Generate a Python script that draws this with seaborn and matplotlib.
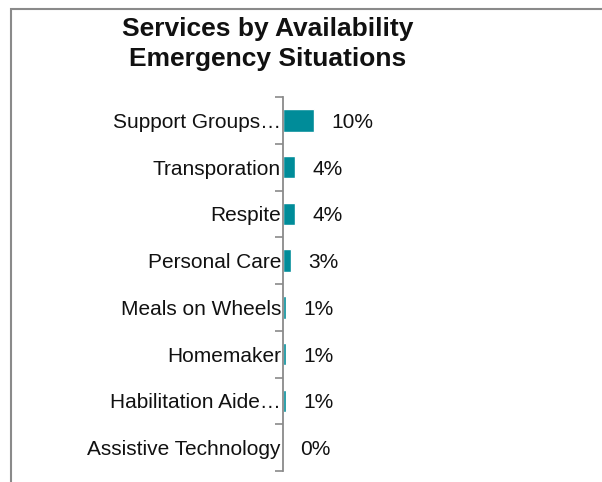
import matplotlib
matplotlib.use("Agg")
import matplotlib.pyplot as plt
import seaborn as sns
import numpy as np
import pandas as pd
from matplotlib.patches import Rectangle

services = ["Support Groups…", "Transporation", "Respite", "Personal Care",
            "Meals on Wheels", "Homemaker", "Habilitation Aide…", "Assistive Technology"]
percent = [10.2, 4.0, 4.0, 2.6, 1.0, 1.0, 1.0, 0.0]
title_lines = ["Services by Availability", "Emergency Situations"]

sns.set_theme(style="white")
plt.rcParams["font.family"] = ["Liberation Sans", "DejaVu Sans"]

df = pd.DataFrame({"service": services, "pct": percent})

fig = plt.figure(figsize=(6.02, 4.82), dpi=100)
W, H = 602, 482
ax = fig.add_axes([283 / W, 1 - 471 / H, 305 / W, 374 / H])

bar_color = "#008C99"
gray = "#8a8a8a"
txt = "#111111"

sns.barplot(data=df, y="service", x="pct", color=bar_color, saturation=1,
            width=0.48, orient="h", ax=ax)

ax.set_xlim(0, 100)
ax.set_ylim(len(services) - 0.5, -0.5)
for s in ["top", "right", "bottom"]:
    ax.spines[s].set_visible(False)
ax.spines["left"].set_color(gray)
ax.spines["left"].set_linewidth(1.3)
ax.set_xticks([])
ax.set_xlabel("")
ax.set_ylabel("")
ax.set_yticks(np.arange(-0.5, len(services), 1), minor=True)
ax.tick_params(axis="y", which="minor", length=5.5, width=1.2, color=gray, left=True)
ax.tick_params(axis="y", which="major", length=0, pad=1.5, labelsize=15, labelcolor=txt)

for i, v in enumerate(percent):
    ax.annotate(f"{v:.0f}%", xy=(v, i), xytext=(12.5, 0), textcoords="offset points",
                va="center_baseline", ha="left", fontsize=15, color=txt)

for k, (line, base) in enumerate(zip(title_lines, [36, 66])):
    fig.text(268 / W, 1 - base / H, line, ha="center", va="baseline", fontsize=19,
             fontweight="bold", color=txt)

frame = Rectangle((11 / W, -0.1), 1.2, 1 - 9 / H + 0.1, transform=fig.transFigure,
                  fill=False, edgecolor="#8a8a8a", linewidth=1.5, clip_on=False)
fig.patches.append(frame)

fig.savefig("out.png", dpi=100)
